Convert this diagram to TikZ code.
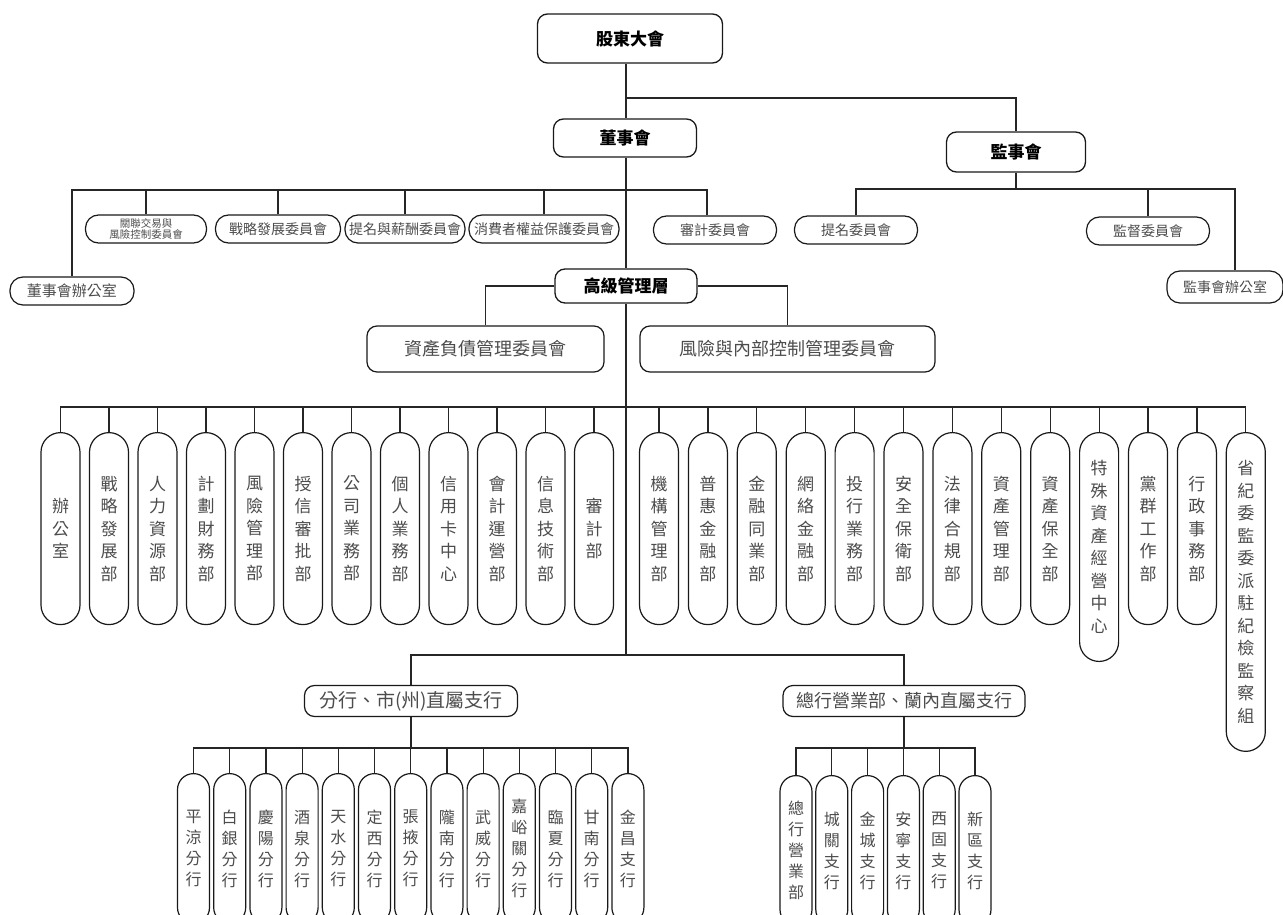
\documentclass[tikz,border=0pt]{standalone}
\usepackage{fontspec}
\setmainfont{Noto Sans CJK TC}
\begin{document}
\begin{tikzpicture}[x=1pt,y=-1pt,
    line/.style={draw=black!85, line width=1.2pt},
    topbox/.style={draw=black!90, line width=1.3pt, rounded corners=10pt, fill=white, inner sep=0pt, font=\fontsize{17}{20}\selectfont\bfseries},
    midbox/.style={draw=black!90, line width=1.2pt, rounded corners=10pt, inner sep=0pt, text=black!70, font=\fontsize{18}{20}\selectfont},
    cmbox/.style={draw=black!90, line width=1.2pt, rounded corners=13pt, inner sep=0pt, minimum height=28pt, text=black!70, font=\fontsize{14}{16}\selectfont},
    deptbox/.style={draw=black!90, line width=1.2pt, rounded corners=19.5pt, inner xsep=0pt, inner ysep=28pt, minimum width=39pt, minimum height=192pt, anchor=north, align=center, text=black!70, font=\fontsize{17}{22.5}\selectfont},
    branchbox/.style={draw=black!90, line width=1.2pt, rounded corners=16pt, inner xsep=0pt, minimum width=32pt, minimum height=150pt, anchor=north, align=center, text=black!70, font=\fontsize{16}{21}\selectfont}
  ]
      % Page
      \useasboundingbox (0,0) rectangle (1283,915);
      \clip (0,0) rectangle (1283,915);
      \coordinate (spine) at (626,0);
      \coordinate (sbus) at (0,98);
      \coordinate (bbus) at (0,190);
      \coordinate (svbus) at (0,189);
      \coordinate (dbus) at (0,407);
      \coordinate (brbus) at (0,655);
      \coordinate (lbus) at (0,748);

      % Top
      \node[topbox, minimum width=185pt, minimum height=49pt] (agm) at (630,38.5) {股東大會};
      \node[topbox, minimum width=143pt, minimum height=38pt] (board) at (625,138) {董事會};
      \node[topbox, minimum width=139pt, minimum height=40pt] (sup) at (1016,152) {監事會};
      \node[topbox, minimum width=142pt, minimum height=34pt] (sm) at (626,286) {高級管理層};

      % Board committees
      \node[cmbox, minimum width=124pt, font=\fontsize{15}{17}\selectfont] (bdo) at (72,291) {董事會辦公室};
      \node[cmbox, minimum width=121pt, align=center, font=\fontsize{10.5}{11.5}\selectfont] (rpt) at (146,229) {關聯交易與\\風險控制委員會};
      \node[cmbox, minimum width=125pt] (sdc) at (278,229) {戰略發展委員會};
      \node[cmbox, minimum width=120pt] (nrc) at (405,229) {提名與薪酬委員會};
      \node[cmbox, minimum width=150pt] (cpc) at (544,229) {消費者權益保護委員會};
      \node[cmbox, minimum width=123pt] (adc) at (715,230) {審計委員會};

      % Supervisor committees
      \node[cmbox, minimum width=123pt] (snc) at (856,230) {提名委員會};
      \node[cmbox, minimum width=123pt] (smc) at (1148,231) {監督委員會};
      \node[cmbox, minimum width=116pt, minimum height=32pt] (sof) at (1225,287) {監事會辦公室};

      % Management committees
      \node[midbox, minimum width=237pt, minimum height=46pt] (alm) at (485.5,349) {資產負債管理委員會};
      \node[midbox, minimum width=295pt, minimum height=46pt] (ric) at (787.5,349) {風險與內部控制管理委員會};

      % Departments
      \foreach \lab [count=\i from 0] in {辦\\公\\室, 戰\\略\\發\\展\\部, 人\\力\\資\\源\\部, 計\\劃\\財\\務\\部, 風\\險\\管\\理\\部, 授\\信\\審\\批\\部, 公\\司\\業\\務\\部, 個\\人\\業\\務\\部, 信\\用\\卡\\中\\心, 會\\計\\運\\營\\部, 信\\息\\技\\術\\部, 審\\計\\部}
        \node[deptbox] (dl\i) at (60.5+48.5*\i,432) {\lab};
      \foreach \lab [count=\i from 0] in {機\\構\\管\\理\\部, 普\\惠\\金\\融\\部, 金\\融\\同\\業\\部, 網\\絡\\金\\融\\部, 投\\行\\業\\務\\部, 安\\全\\保\\衛\\部, 法\\律\\合\\規\\部, 資\\產\\管\\理\\部, 資\\產\\保\\全\\部, 特\\殊\\資\\產\\經\\營\\中\\心, 黨\\群\\工\\作\\部, 行\\政\\事\\務\\部, 省\\紀\\委\\監\\委\\派\\駐\\紀\\檢\\監\\察\\組}
        \node[deptbox] (dr\i) at (659+48.9*\i,432) {\lab};

      % Branch groups
      \node[midbox, minimum width=213pt, minimum height=31pt, font=\fontsize{19}{21}\selectfont] (brA) at (411,701) {分行、市(州)直屬支行};
      \node[midbox, minimum width=242pt, minimum height=31pt, font=\fontsize{18}{21}\selectfont] (brB) at (904,701) {總行營業部、蘭內直屬支行};

      % Branches
      \foreach \lab [count=\i from 0] in {平\\涼\\分\\行, 白\\銀\\分\\行, 慶\\陽\\分\\行, 酒\\泉\\分\\行, 天\\水\\分\\行, 定\\西\\分\\行, 張\\掖\\分\\行, 隴\\南\\分\\行, 武\\威\\分\\行, 嘉\\峪\\關\\分\\行, 臨\\夏\\分\\行, 甘\\南\\分\\行, 金\\昌\\支\\行}
        \node[branchbox] (bl\i) at (193.5+36.2*\i,773) {\lab};
      \foreach \lab [count=\i from 0] in {總\\行\\營\\業\\部, 城\\關\\支\\行, 金\\城\\支\\行, 安\\寧\\支\\行, 西\\固\\支\\行, 新\\區\\支\\行}
        \node[branchbox] (br\i) at (796+35.8*\i,775) {\lab};

      % Spine
      \draw[line] (agm.south -| spine) -- (board.north -| spine);
      \draw[line] (sbus -| spine) -| (sup.north);
      \draw[line] (board.south -| spine) -- (sm.north -| spine);
      \draw[line] (sm.south -| spine) -- (brbus -| spine);

      % Board bus
      \draw[line] (bdo.north) |- ([xshift=-8pt]adc.north |- bbus) -- ([xshift=-8pt]adc.north);
      \foreach \n in {rpt,sdc,nrc,cpc}
        \draw[line] (\n.north) -- (\n.north |- bbus);

      % Supervisor bus
      \draw[line] (sup.south) -- (sup.south |- svbus);
      \draw[line] (snc.north) |- ([xshift=10pt]sof.north |- svbus) -- ([xshift=10pt]sof.north);
      \draw[line] (smc.north) -- (smc.north |- svbus);

      % Management committees
      \draw[line] (sm.west) -| (alm.north);
      \draw[line] (sm.east) -| (ric.north);

      % Department bus
      \draw[line] (dl0.north) |- (dr12.north |- dbus) -- (dr12.north);
      \foreach \i in {1,...,11}
        \draw[line] (dl\i.north) -- (dl\i.north |- dbus);
      \foreach \i in {0,...,11}
        \draw[line] (dr\i.north) -- (dr\i.north |- dbus);

      % Branch bus
      \draw[line] (brA.north) |- (brB.north |- brbus) -- (brB.north);
      \draw[line] (brA.south) -- (brA.south |- lbus);
      \draw[line] (bl0.north) |- (bl12.north |- lbus) -- (bl12.north);
      \foreach \i in {1,...,11}
        \draw[line] (bl\i.north) -- (bl\i.north |- lbus);
      \draw[line] (brB.south) -- (brB.south |- lbus);
      \draw[line] (br0.north) |- (br5.north |- lbus) -- (br5.north);
      \foreach \i in {1,...,4}
        \draw[line] (br\i.north) -- (br\i.north |- lbus);

    \end{tikzpicture}
\end{document}
